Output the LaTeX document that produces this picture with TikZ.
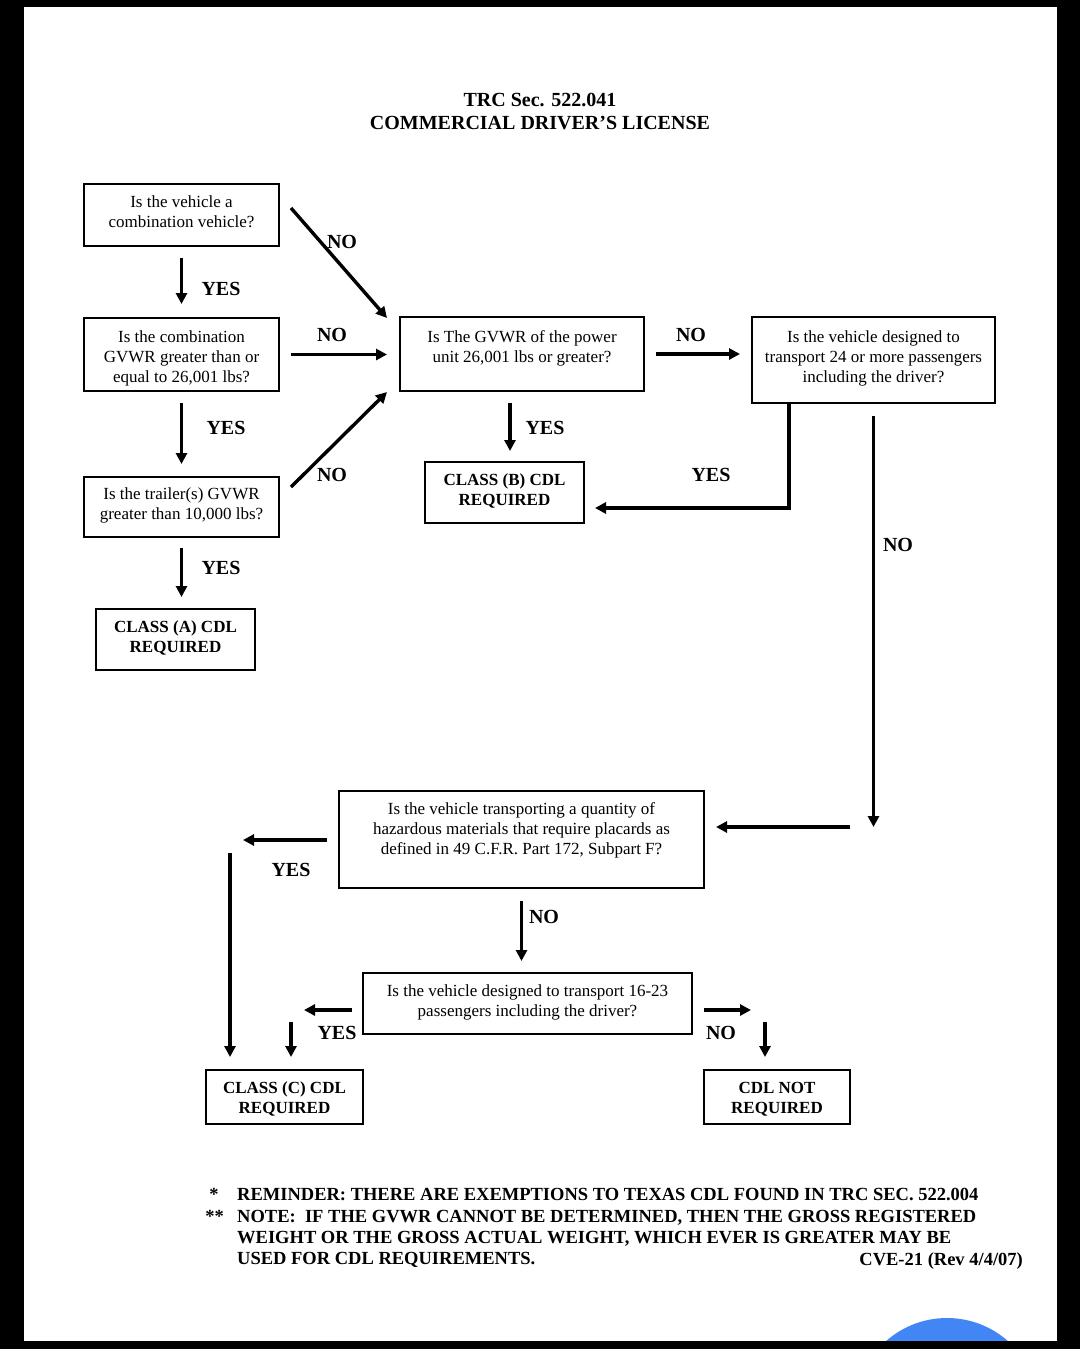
\documentclass[tikz,border=0pt]{standalone}
\usepackage{fontspec}
\setmainfont{Liberation Serif}
\usetikzlibrary{arrows.meta,calc}
\definecolor{uiblue}{RGB}{66,133,244}
\begin{document}
\begin{tikzpicture}[x=1pt,y=-1pt,
  qbox/.style={draw, line width=2.6pt, inner sep=0pt, outer sep=0pt, align=center,
     font=\fontsize{17}{20}\selectfont, execute at end node=\strut},
  rbox/.style={qbox, font=\bfseries\fontsize{17}{19.5}\selectfont},
  arr/.style={line width=3.4pt, -{Triangle[length=11pt,width=11pt]}},
  lbl/.style={font=\bfseries\fontsize{20}{23}\selectfont, inner sep=0pt},
  foot/.style={font=\bfseries\fontsize{18.5}{21}\selectfont, inner sep=0pt, align=left},
]
\useasboundingbox (0,0) rectangle (1080,1349);
\fill[white] (0,0) rectangle (1080,1349);

\node[lbl, align=center] (title) at (540,111.5) {TRC Sec. 522.041\\COMMERCIAL DRIVER’S LICENSE};

% boxes
\node[qbox, minimum width=195, minimum height=62] (b1) at (181.5,215) {Is the vehicle a\\combination vehicle?};
\node[qbox, minimum width=195, minimum height=73] (b2) at (181.5,354.5) {\mbox{}\\[1.6pt]Is the combination\\GVWR greater than or\\equal to 26,001 lbs?};
\node[qbox, minimum width=195, minimum height=60] (b3) at (181.5,507) {Is the trailer(s) GVWR\\greater than 10,000 lbs?};
\node[rbox, minimum width=159, minimum height=61] (ca) at (175.5,639.5) {CLASS (A) CDL\\REQUIRED};
\node[qbox, minimum width=244, minimum height=74] (b4) at (522,354) {\mbox{}\\[2.6pt]Is The GVWR of the power\\unit 26,001 lbs or greater?\\\mbox{}};
\node[qbox, minimum width=243, minimum height=86] (b5) at (873.5,360) {Is the vehicle designed to\\transport 24 or more passengers\\including the driver?};
\node[rbox, minimum width=159, minimum height=61] (cb) at (504.5,492.5) {CLASS (B) CDL\\REQUIRED};
\node[qbox, minimum width=365, minimum height=97] (hz) at (521.5,839.5) {\mbox{}\\[-4.4pt]Is the vehicle transporting a quantity of\\hazardous materials that require placards as\\defined in 49 C.F.R. Part 172, Subpart F?\\\mbox{}};
\node[qbox, minimum width=329, minimum height=61] (ps) at (527.5,1003.5) {Is the vehicle designed to transport 16-23\\passengers including the driver?};
\node[rbox, minimum width=157, minimum height=54] (cc) at (284.5,1097) {\mbox{}\\[-0.5pt]CLASS (C) CDL\\REQUIRED};
\node[rbox, minimum width=146, minimum height=54] (nr) at (777,1097) {\mbox{}\\[-0.5pt]CDL NOT\\REQUIRED};

% connectors
\draw[arr, shorten <=12pt, shorten >=14pt] (b1) -- (b2);
\draw[arr, shorten <=12pt, shorten >=13pt] (b2) -- (b3);
\draw[arr, shorten <=11pt, shorten >=12pt] (b3.south) -- (b3.south |- ca.north);
\draw[arr] ($(b1.east)+(12,-7)$) -- ($(b4.north west)+(-13,1)$);
\draw[arr, shorten <=12pt, shorten >=13pt] (b2.east) -- (b2.east -| b4.west);
\draw[arr] ($(b3.north east)+(12,10)$) -- ($(b4.south west)+(-13,1)$);
\draw[arr] ($(b4.south)+(-12,12)$) -- ($(cb.north)+(5.5,-11)$);
\draw[arr, shorten <=12pt, shorten >=12pt] (b4.east) -- (b4.east -| b5.west);
\draw[arr] ($(b5.south west)+(37,0)$) |- ($(cb.east)+(11,15.5)$);
\coordinate (k) at ($(b5.south)+(0,424)$);
\draw[arr, shorten <=13pt] (b5.south) -- (k);
\draw[arr] ($(k)+(-24,0)$) -- ($(hz.east)+(12,-12.5)$);
\draw[arr, shorten <=12pt] ($(hz.west)+(0,0.5)$) -- ++(-96,0);
\draw[arr] ($(cc.north west)+(24,-217)$) -- ($(cc.north west)+(24,-13)$);
\draw[arr, shorten <=13pt, shorten >=12pt] (hz.south) -- (hz.south |- ps.north);
\draw[arr, shorten <=11pt] ($(ps.west)+(0,6.5)$) -- ++(-59,0);
\draw[arr] ($(cc.north)+(6.5,-48)$) -- ($(cc.north)+(6.5,-13)$);
\draw[arr, shorten <=12pt] ($(ps.east)+(0,6.5)$) -- ++(59,0);
\draw[arr] ($(nr.north west)+(61,-48)$) -- ($(nr.north west)+(61,-13)$);

% labels
\node[lbl] (l1) at (342,242) {NO};
\node[lbl] (l2) at (221,289) {YES};
\node[lbl] (l3) at (332,335) {NO};
\node[lbl] (l4) at (226,428) {YES};
\node[lbl] (l5) at (332,475) {NO};
\node[lbl] (l6) at (221,568) {YES};
\node[lbl] (l7) at (691,335) {NO};
\node[lbl] (l8) at (545,428) {YES};
\node[lbl] (l9) at (711,475) {YES};
\node[lbl] (l10) at (898,545) {NO};
\node[lbl] (l11) at (291,870) {YES};
\node[lbl] (l12) at (544,917) {NO};
\node[lbl] (l13) at (337,1033) {YES};
\node[lbl] (l14) at (721,1033) {NO};

% footnotes
\node[foot, anchor=base] (s1) at (214,1200) {*};
\node[foot, anchor=base] (s2) at (214.5,1222) {**};
\node[foot, anchor=base west] (f1) at (237,1200.5) {REMINDER: THERE ARE EXEMPTIONS TO TEXAS CDL FOUND IN TRC SEC. 522.004};
\node[foot, anchor=north west] (f2) at (237,1210.5) {NOTE:\ \ IF THE GVWR CANNOT BE DETERMINED, THEN THE GROSS REGISTERED\\WEIGHT OR THE GROSS ACTUAL WEIGHT, WHICH EVER IS GREATER MAY BE\\USED FOR CDL REQUIREMENTS.};
\node[foot, anchor=base east] (f3) at (1023,1265) {CVE-21 (Rev 4/4/07)};

% screen frame
\begin{scope}
\clip (0,0) rectangle (1080,1349);
\fill[uiblue] (947,1410) circle[radius=92pt];
\fill[black] (0,0) rectangle (1080,7);
\fill[black] (0,0) rectangle (24,1349);
\fill[black] (1057,0) rectangle (1080,1349);
\fill[black] (0,1341) rectangle (1080,1349);
\end{scope}
\end{tikzpicture}
\end{document}
